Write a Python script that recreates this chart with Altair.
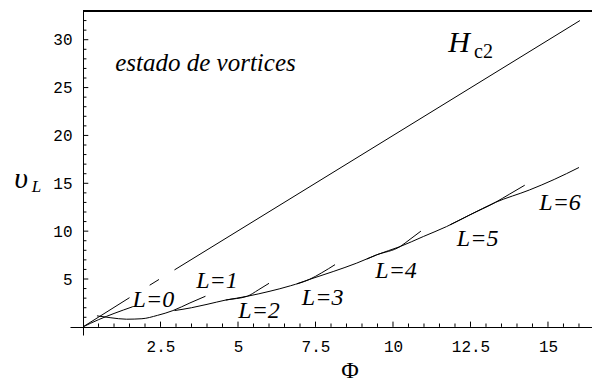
import altair as alt
import pandas as pd

# Upper critical field line H_c2 (drawn in three pieces)
hc2_a_x = [0.0, 1.5]
hc2_a_y = [0.0, 3.05]
hc2_b_x = [2.15, 2.45]
hc2_b_y = [4.35, 4.95]
hc2_c_x = [2.95, 16.03]
hc2_c_y = [5.95, 32.0]

# Vortex branches with vorticity L
L0_x = [0.0, 0.5, 1.0, 1.6]
L0_y = [0.0, 0.75, 1.4, 2.1]
L1_x = [0.45, 0.9, 1.4, 1.9, 2.4, 2.9, 3.45, 3.95]
L1_y = [1.15, 0.95, 0.8, 0.85, 1.2, 1.7, 2.5, 3.2]
L2_x = [2.95, 3.5, 4.0, 4.6, 5.3, 5.65, 6.0]
L2_y = [1.7, 2.0, 2.35, 2.8, 3.2, 3.85, 4.55]
L3_x = [4.6, 5.3, 6.0, 6.7, 7.3, 7.7, 8.13]
L3_y = [2.8, 3.2, 3.7, 4.3, 4.95, 5.65, 6.5]
L4_x = [6.9, 7.3, 8.07, 8.83, 9.47, 10.23, 10.55, 10.9]
L4_y = [4.5, 4.95, 5.78, 6.66, 7.52, 8.39, 9.15, 10.0]
L5_x = [9.15, 9.47, 10.23, 10.98, 11.73, 12.48, 13.3, 13.75, 14.25]
L5_y = [7.08, 7.52, 8.39, 9.44, 10.48, 11.7, 13.0, 13.85, 14.8]
L6_x = [11.84, 12.48, 13.3, 14.4, 15.2, 16.0]
L6_y = [10.66, 11.7, 13.0, 14.3, 15.4, 16.65]

# Branch labels
label_text = ["L=0", "L=1", "L=2", "L=3", "L=4", "L=5", "L=6"]
label_x = [2.27, 4.32, 5.68, 7.73, 10.1, 12.73, 15.39]
label_y = [2.82, 4.8, 1.67, 3.03, 5.85, 9.2, 12.96]

# Axis ticks
x_major = [2.5, 5, 7.5, 10, 12.5, 15]
x_minor = [0.5, 1, 1.5, 2, 3, 3.5, 4, 4.5, 5.5, 6, 6.5, 7, 8, 8.5, 9, 9.5,
           10.5, 11, 11.5, 12, 13, 13.5, 14, 14.5, 15.5, 16]
y_major = [5, 10, 15, 20, 25, 30]
y_minor = [1, 2, 3, 4, 6, 7, 8, 9, 11, 12, 13, 14, 16, 17, 18, 19, 21, 22,
           23, 24, 26, 27, 28, 29, 31, 32]

X_DOMAIN = [-0.42, 16.42]
Y_DOMAIN = [-0.85, 33.0]

branches = [
    ("hc2_a", hc2_a_x, hc2_a_y), ("hc2_b", hc2_b_x, hc2_b_y), ("hc2_c", hc2_c_x, hc2_c_y),
    ("L0", L0_x, L0_y), ("L1", L1_x, L1_y), ("L2", L2_x, L2_y), ("L3", L3_x, L3_y),
    ("L4", L4_x, L4_y), ("L5", L5_x, L5_y), ("L6", L6_x, L6_y),
]
rows = []
for name, bx, by in branches:
    for i, (a, b) in enumerate(zip(bx, by)):
        rows.append({"branch": name, "i": i, "phi": a, "v": b})
curves = pd.DataFrame(rows)

xs = alt.Scale(domain=X_DOMAIN, nice=False, zero=False)
ys = alt.Scale(domain=Y_DOMAIN, nice=False, zero=False)

# Axes cross at the origin; the same definition is used in every layer so they merge
x_axis = alt.Axis(values=x_major, format=".1~f", ticks=False, labelPadding=11, offset=-8,
                  domainColor="black", domainWidth=1, labelFont="Liberation Mono",
                  labelFontSize=16, labelColor="black", title=None, grid=False,
                  labelFlush=False, labelOverlap=False)
y_axis = alt.Axis(values=y_major, ticks=False, labelPadding=11, offset=-13,
                  domainColor="black", domainWidth=1, labelFont="Liberation Mono",
                  labelFontSize=16, labelColor="black", title=None, grid=False,
                  labelFlush=False, labelOverlap=False)


def X(field):
    return alt.X(field, scale=xs, axis=x_axis)


def Y(field):
    return alt.Y(field, scale=ys, axis=y_axis)


lines = alt.Chart(curves).mark_line(color="black", strokeWidth=1, interpolate="monotone").encode(
    x=X("phi:Q"), y=Y("v:Q"), detail="branch:N", order="i:Q",
)

# Inward tick marks along both axes
xt = pd.DataFrame({"t": x_major + x_minor,
                   "len": [0.55] * len(x_major) + [0.35] * len(x_minor)})
x_ticks = alt.Chart(xt).mark_rule(color="black", strokeWidth=1).encode(
    x=X("t:Q"), y=Y("zero:Q"), y2="len:Q",
).transform_calculate(zero="0")

yt = pd.DataFrame({"t": y_major + y_minor,
                   "len": [0.17] * len(y_major) + [0.11] * len(y_minor)})
y_ticks = alt.Chart(yt).mark_rule(color="black", strokeWidth=1).encode(
    y=Y("t:Q"), x=X("zero:Q"), x2="len:Q",
).transform_calculate(zero="0")

top_line = alt.Chart(pd.DataFrame({"a": [0.0], "b": [X_DOMAIN[1]], "y": [Y_DOMAIN[1]]})).mark_rule(
    color="black", strokeWidth=2
).encode(x=X("a:Q"), x2="b:Q", y=Y("y:Q"))

labels = alt.Chart(pd.DataFrame({"t": label_text, "x": label_x, "y": label_y})).mark_text(
    font="Liberation Serif", fontStyle="italic", fontSize=24, color="black",
    align="center", baseline="middle"
).encode(x=X("x:Q"), y=Y("y:Q"), text="t:N")


def note(text, x, y, size, style="normal"):
    return alt.Chart(pd.DataFrame({"t": [text], "x": [x], "y": [y]})).mark_text(
        font="Liberation Serif", fontStyle=style, fontSize=size, color="black",
        align="center", baseline="middle"
    ).encode(x=X("x:Q"), y=Y("y:Q"), text="t:N")


notes = [
    note("estado de vortices", 3.95, 27.6, 25, "italic"),
    note("H", 12.13, 29.7, 30, "italic"),
    note("c2", 12.92, 28.68, 20),
    note("υ", -2.0, 15.4, 30, "italic"),
    note("L", -1.5, 14.6, 17, "italic"),
    note("Φ", 8.61, -4.6, 24),
]

chart = alt.layer(lines, x_ticks, y_ticks, top_line, labels, *notes).properties(
    width=522, height=324,
    padding={"left": 70, "top": 11, "right": 0, "bottom": 50},
    autosize=alt.AutoSizeParams(type="none"),
    background="white",
).configure_view(stroke=None)

chart.save("out.html", embed_options={"renderer": "svg", "actions": False})
